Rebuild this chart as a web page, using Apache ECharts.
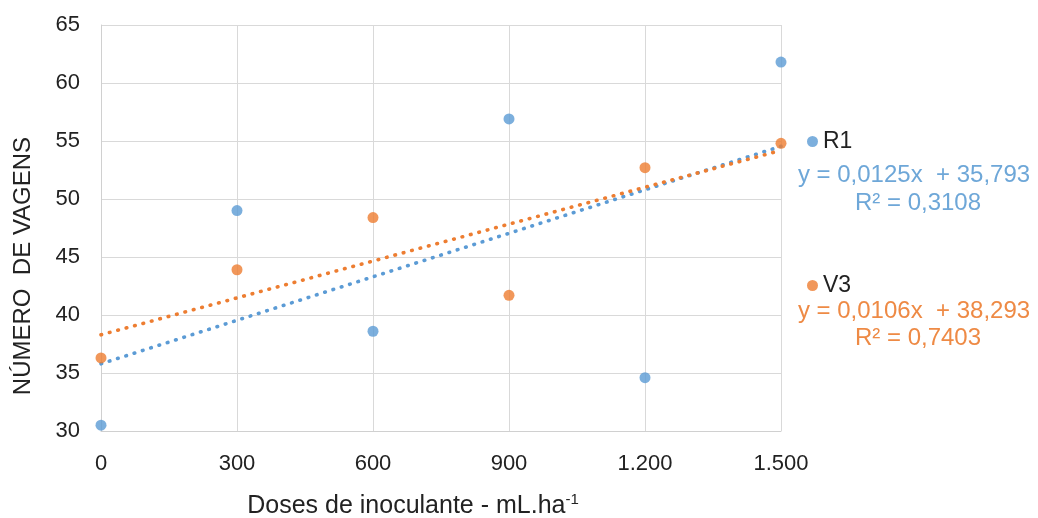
<!DOCTYPE html>
<html>
<head>
<meta charset="utf-8">
<script src="https://cdn.jsdelivr.net/npm/echarts@6/dist/echarts.min.js"></script>
<style>
  html, body { margin: 0; padding: 0; background: #fff; }
  #chart { width: 1038px; height: 518px; }
</style>
</head>
<body>
<div id="chart"></div>
<script>
// Doses of inoculant (mL/ha)
const doses = [0, 300, 600, 900, 1200, 1500];
// Number of pods per treatment
const r1Values = [30.5, 49.0, 38.6, 56.9, 34.6, 61.8];
const v3Values = [36.3, 43.9, 48.4, 41.7, 52.7, 54.8];
// Linear fits [slope, intercept] and R²
const r1Fit = [0.0125, 35.793];
const v3Fit = [0.0106, 38.293];
const r1R2 = 0.3108;
const v3R2 = 0.7403;
const seriesNames = ['R1', 'V3'];
const xTitle = 'Doses de inoculante - mL.ha';
const yTitle = 'NÚMERO  DE VAGENS';

const BLUE = '#5b9bd5';
const ORANGE = '#ed7d31';
const FONT = 'Liberation Sans, Arial, sans-serif';

const pairs = (xs, ys) => xs.map((x, i) => [x, ys[i]]);
const fitLine = (fit) => [[doses[0], fit[1] + fit[0] * doses[0]],
                          [doses[doses.length - 1], fit[1] + fit[0] * doses[doses.length - 1]]];
const comma = (v) => String(v).replace('.', ',');
const eqText = (fit) => 'y = ' + comma(fit[0]) + 'x  + ' + comma(fit[1]);
const r2Text = (r2) => 'R² = ' + comma(r2);
const thousands = (v) => v >= 1000 ? Math.floor(v / 1000) + '.' + String(v % 1000).padStart(3, '0') : String(v);

const chart = echarts.init(document.getElementById('chart'), null, { renderer: 'canvas' });

// round-capped tiny dashes give a row of dots
const dotted = (color) => ({ color: color, width: 3.6, type: [0.6, 8.1], cap: 'round' });

const label = (text, x, y, color, size) => ({
  type: 'text', x: x, y: y,
  style: { text: text, fill: color, fontSize: size, fontFamily: FONT, textAlign: 'center', textVerticalAlign: 'middle' }
});

chart.setOption({
  animation: false,
  backgroundColor: '#fff',
  textStyle: { fontFamily: FONT },
  grid: { left: 101, right: 257, top: 25, bottom: 87, containLabel: false, outerBoundsMode: 'none' },
  xAxis: {
    type: 'value', min: 0, max: 1500, interval: 300,
    axisLine: { show: true, lineStyle: { color: '#d0d0d0', width: 1 } },
    axisTick: { show: false },
    splitLine: { show: true, lineStyle: { color: '#d9d9d9', width: 1 } },
    axisLabel: { color: '#222', fontSize: 22, fontFamily: FONT, margin: 22, formatter: thousands }
  },
  yAxis: {
    type: 'value', min: 30, max: 65, interval: 5,
    axisLine: { show: true, lineStyle: { color: '#d0d0d0', width: 1 } },
    axisTick: { show: false },
    splitLine: { show: true, lineStyle: { color: '#d9d9d9', width: 1 } },
    axisLabel: { color: '#222', fontSize: 22, fontFamily: FONT, margin: 21 }
  },
  legend: [
    { data: [seriesNames[0]], left: 802, top: 125, icon: 'circle', itemWidth: 11, itemHeight: 11, itemGap: 4,
      textStyle: { fontSize: 23, color: '#222', fontFamily: FONT, padding: [0, 0, 0, 0] } },
    { data: [seriesNames[1]], left: 802, top: 269, icon: 'circle', itemWidth: 11, itemHeight: 11, itemGap: 4,
      textStyle: { fontSize: 23, color: '#222', fontFamily: FONT, padding: [0, 0, 0, 0] } }
  ],
  graphic: [
    label(eqText(r1Fit), 914, 175, '#6ea7d8', 24),
    label(r2Text(r1R2), 918, 203, '#6ea7d8', 24),
    label(eqText(v3Fit), 914, 311, '#ee8a45', 24),
    label(r2Text(v3R2), 918, 338, '#ee8a45', 24),
    {
      type: 'text', x: 413, y: 506,
      style: {
        text: xTitle + '{sup|-1}', fill: '#222', fontSize: 25, fontFamily: FONT,
        textAlign: 'center', textVerticalAlign: 'middle',
        rich: { sup: { fontSize: 15, fill: '#222', fontFamily: FONT, padding: [0, 0, 12, 0] } }
      }
    },
    {
      type: 'text', x: 23, y: 266, rotation: Math.PI / 2,
      style: { text: yTitle, fill: '#222', fontSize: 24, fontFamily: FONT, textAlign: 'center', textVerticalAlign: 'middle' }
    }
  ],
  series: [
    { name: 'R1 trend', type: 'line', data: fitLine(r1Fit), showSymbol: false, symbol: 'none',
      lineStyle: dotted(BLUE), z: 2, silent: true },
    { name: 'V3 trend', type: 'line', data: fitLine(v3Fit), showSymbol: false, symbol: 'none',
      lineStyle: dotted(ORANGE), z: 2, silent: true },
    { name: seriesNames[0], type: 'scatter', data: pairs(doses, r1Values), symbol: 'circle', symbolSize: 11,
      itemStyle: { color: BLUE }, z: 3 },
    { name: seriesNames[1], type: 'scatter', data: pairs(doses, v3Values), symbol: 'circle', symbolSize: 11,
      itemStyle: { color: ORANGE }, z: 3 }
  ]
});
</script>
</body>
</html>
